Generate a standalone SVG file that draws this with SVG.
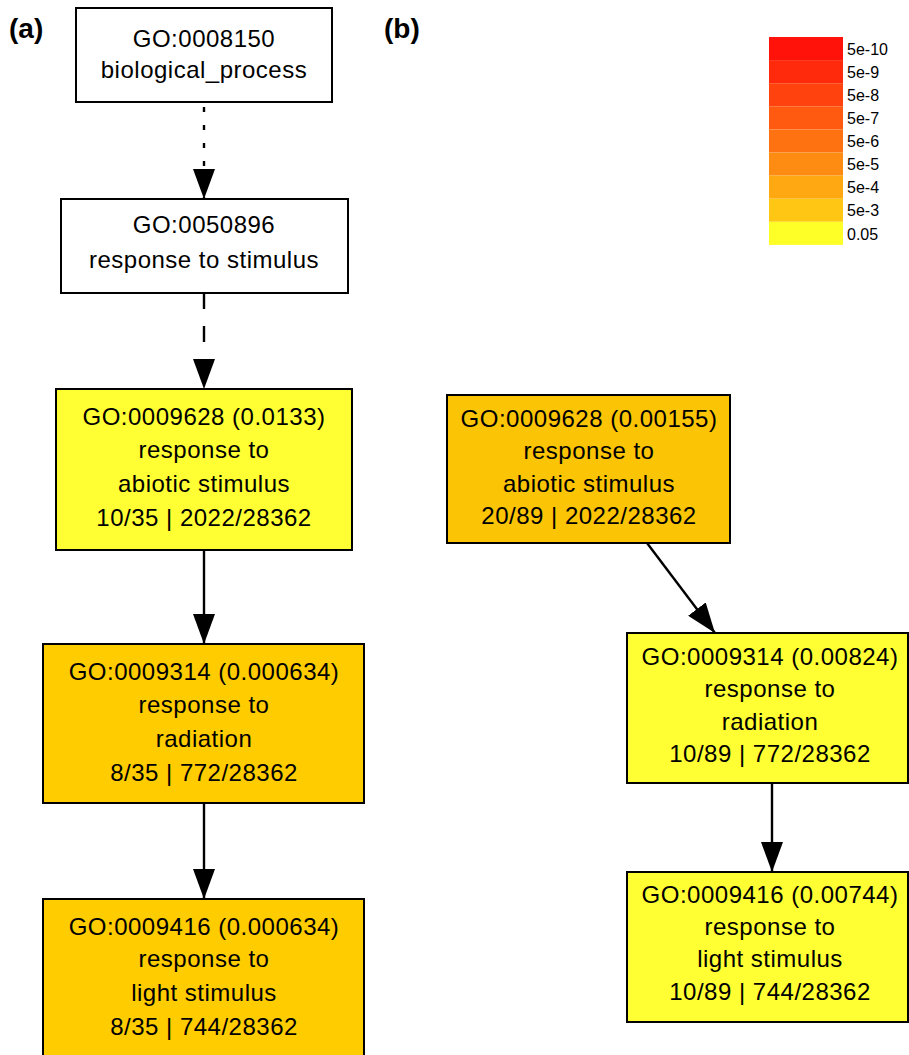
<svg xmlns="http://www.w3.org/2000/svg" width="909" height="1055" viewBox="0 0 909 1055">
<style>
.node rect{stroke:#000;stroke-width:2}
.white{fill:#fff}
.yel{fill:#ffff33}
.org{fill:#ffcc00}
.orgb{fill:#fbc405}
.t{font-family:"Liberation Sans",Arial,sans-serif;font-size:24px;letter-spacing:0.5px;text-anchor:middle;fill:#000}
.lbl{font-family:"Liberation Sans",Arial,sans-serif;font-size:28px;font-weight:bold;fill:#000}
.leg{font-family:"Liberation Sans",Arial,sans-serif;font-size:16px;fill:#000}
.edge{stroke:#000;stroke-width:2.4;fill:none;marker-end:url(#ah)}
</style>
<defs>
<marker id="ah" viewBox="0 0 30 22" refX="30" refY="11" markerWidth="30" markerHeight="22" markerUnits="userSpaceOnUse" orient="auto">
<path d="M0,0 L30,11 L0,22 Z" fill="#000"/>
</marker>
</defs>
<rect width="909" height="1055" fill="#fff"/>
<text class="lbl" x="9" y="38">(a)</text>
<text class="lbl" x="384" y="38">(b)</text>

<g id="legend">
<rect x="769" y="37" width="74" height="23.1" fill="#ff120a"/>
<rect x="769" y="60.1" width="74" height="23.1" fill="#ff2a0c"/>
<rect x="769" y="83.2" width="74" height="23.1" fill="#ff420e"/>
<rect x="769" y="106.3" width="74" height="23.1" fill="#ff5a10"/>
<rect x="769" y="129.4" width="74" height="23.1" fill="#ff7212"/>
<rect x="769" y="152.5" width="74" height="23.1" fill="#ff8c12"/>
<rect x="769" y="175.6" width="74" height="23.1" fill="#ffa812"/>
<rect x="769" y="198.7" width="74" height="23.1" fill="#ffc614"/>
<rect x="769" y="221.8" width="74" height="23.1" fill="#ffff28"/>
<text class="leg" x="847" y="55">5e-10</text>
<text class="leg" x="847" y="78">5e-9</text>
<text class="leg" x="847" y="101">5e-8</text>
<text class="leg" x="847" y="124">5e-7</text>
<text class="leg" x="847" y="147">5e-6</text>
<text class="leg" x="847" y="170">5e-5</text>
<text class="leg" x="847" y="193">5e-4</text>
<text class="leg" x="847" y="216">5e-3</text>
<text class="leg" x="847" y="240">0.05</text>
</g>

<g id="connectors">
<path class="edge" d="M204,102 L204,199" stroke-dasharray="5,13" stroke-dashoffset="-5"/>
<path class="edge" d="M204,293 L204,389" stroke-dasharray="16,17"/>
<path class="edge" d="M204,550 L204,644"/>
<path class="edge" d="M204,803 L204,899"/>
<path class="edge" d="M647,543 L715,633"/>
<path class="edge" d="M772,783 L772,872"/>
</g>

<g id="a_GO0008150" class="node">
<rect class="white" x="76" y="8" width="256" height="94"/>
<text class="t" x="204" y="47">GO:0008150</text>
<text class="t" x="204" y="78">biological_process</text>
</g>
<g id="a_GO0050896" class="node">
<rect class="white" x="61" y="199" width="287" height="94"/>
<text class="t" x="204" y="233">GO:0050896</text>
<text class="t" x="204" y="268">response to stimulus</text>
</g>
<g id="a_GO0009628" class="node">
<rect class="yel" x="56" y="389" width="296" height="161"/>
<text class="t" x="204" y="425">GO:0009628 (0.0133)</text>
<text class="t" x="204" y="458">response to</text>
<text class="t" x="204" y="492">abiotic stimulus</text>
<text class="t" x="204" y="526">10/35 | 2022/28362</text>
</g>
<g id="a_GO0009314" class="node">
<rect class="org" x="43" y="644" width="321" height="159"/>
<text class="t" x="204" y="680">GO:0009314 (0.000634)</text>
<text class="t" x="204" y="713">response to</text>
<text class="t" x="204" y="747">radiation</text>
<text class="t" x="204" y="781">8/35 | 772/28362</text>
</g>
<g id="a_GO0009416" class="node">
<rect class="org" x="43" y="899" width="321" height="170"/>
<text class="t" x="204" y="935">GO:0009416 (0.000634)</text>
<text class="t" x="204" y="967">response to</text>
<text class="t" x="204" y="1001">light stimulus</text>
<text class="t" x="204" y="1035">8/35 | 744/28362</text>
</g>

<g id="b_GO0009628" class="node">
<rect class="orgb" x="447" y="395" width="283" height="148"/>
<text class="t" x="589" y="427">GO:0009628 (0.00155)</text>
<text class="t" x="589" y="459">response to</text>
<text class="t" x="589" y="492">abiotic stimulus</text>
<text class="t" x="589" y="524">20/89 | 2022/28362</text>
</g>
<g id="b_GO0009314" class="node">
<rect class="yel" x="627" y="633" width="281" height="150"/>
<text class="t" x="770" y="665">GO:0009314 (0.00824)</text>
<text class="t" x="770" y="697">response to</text>
<text class="t" x="770" y="730">radiation</text>
<text class="t" x="770" y="762">10/89 | 772/28362</text>
</g>
<g id="b_GO0009416" class="node">
<rect class="yel" x="627" y="872" width="281" height="150"/>
<text class="t" x="770" y="903">GO:0009416 (0.00744)</text>
<text class="t" x="770" y="935">response to</text>
<text class="t" x="770" y="967">light stimulus</text>
<text class="t" x="770" y="1000">10/89 | 744/28362</text>
</g>
</svg>
